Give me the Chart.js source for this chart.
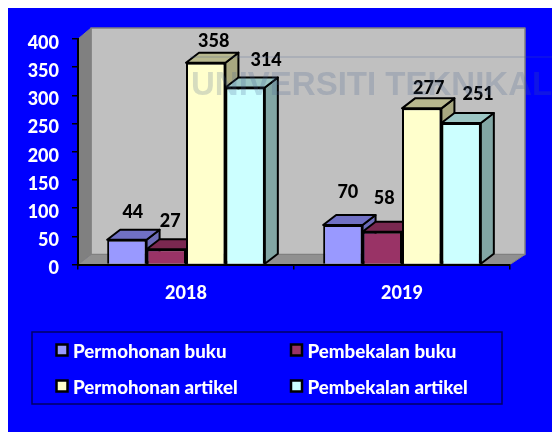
<!DOCTYPE html>
<html>
<head>
<meta charset="utf-8">
<script src="https://cdn.jsdelivr.net/npm/chart.js@4/dist/chart.umd.min.js"></script>
<style>
body { margin: 0; background: #fff; }
canvas { display: block; }
</style>
</head>
<body>
<canvas id="barChart" width="552" height="432"></canvas>
<script>
var categories = ["2018", "2019"];
var seriesNames = ["Permohonan buku", "Pembekalan buku", "Permohonan artikel", "Pembekalan artikel"];
var permohonanBuku = [44, 70];
var pembekalanBuku = [27, 58];
var permohonanArtikel = [358, 277];
var pembekalanArtikel = [314, 251];
var yTicks = [0, 50, 100, 150, 200, 250, 300, 350, 400];

var frontColors = ["#9999ff", "#993366", "#ffffcc", "#ccffff"];
var topColors = ["#7070c4", "#7a2850", "#b8b88e", "#9cc6c4"];
var sideColors = ["#6c6cb8", "#6e2348", "#a8a880", "#82a6a4"];

// hand placed value labels in the original, offset from the bar's front top centre
var labelOffsets = [
	[[6, -28], [5, -33]],
	[[4, -28], [2, -34]],
	[[8, -21], [7, -20]],
	[[21, -27], [17, -29]]
];

var depthX = 13;
var depthY = 10;
var fontName = 'Lato, "Noto Sans", sans-serif';

function poly(ctx, pts, fill, stroke, lw) {
	ctx.beginPath();
	ctx.moveTo(pts[0][0], pts[0][1]);
	for (var i = 1; i < pts.length; i++) ctx.lineTo(pts[i][0], pts[i][1]);
	ctx.closePath();
	ctx.fillStyle = fill;
	ctx.fill();
	if (stroke) {
		ctx.strokeStyle = stroke;
		ctx.lineWidth = lw;
		ctx.lineJoin = "round";
		ctx.stroke();
	}
}

var scene3d = {
	id: "scene3d",
	beforeDraw: function (chart) {
		var ctx = chart.ctx, a = chart.chartArea;
		var backL = a.left + depthX, backR = a.right + 15, backT = a.top - 11, backB = a.bottom - depthY;
		ctx.save();
		ctx.fillStyle = "#ffffff";
		ctx.fillRect(0, 0, 552, 432);
		ctx.fillStyle = "#0000ff";
		ctx.fillRect(8, 8, 544, 424);
		// walls and floor
		poly(ctx, [[backL, backT], [backR, backT], [backR, backB], [backL, backB]], "#c0c0c0", "#808080", 1.5);
		poly(ctx, [[a.left, a.top], [backL, backT], [backL, backB], [a.left, a.bottom]], "#808080", "#808080", 1);
		poly(ctx, [[a.left, a.bottom], [backL, backB], [backR, backB], [a.right, a.bottom]], "#909090", "#808080", 1);
		ctx.restore();
	},
	beforeDatasetsDraw: function (chart) {
		var ctx = chart.ctx;
		ctx.save();
		// left to right so each bar's top covers the side of the one before
		for (var c = 0; c < categories.length; c++) {
			for (var s = 0; s < seriesNames.length; s++) {
				var bar = chart.getDatasetMeta(s).data[c];
				var l = bar.x - bar.width / 2, r = bar.x + bar.width / 2;
				poly(ctx, [[r, bar.y], [r + depthX, bar.y - depthY], [r + depthX, bar.base - depthY], [r, bar.base]], sideColors[s], "#000000", 2);
				poly(ctx, [[l, bar.y], [l + depthX, bar.y - depthY], [r + depthX, bar.y - depthY], [r, bar.y]], topColors[s], "#000000", 2);
			}
		}
		ctx.restore();
	},
	afterDatasetsDraw: function (chart) {
		var ctx = chart.ctx;
		ctx.save();
		ctx.font = "900 18px " + fontName;
		ctx.fillStyle = "#000000";
		ctx.textAlign = "center";
		ctx.textBaseline = "middle";
		for (var s = 0; s < seriesNames.length; s++) {
			chart.getDatasetMeta(s).data.forEach(function (bar, c) {
				var off = labelOffsets[s][c];
				ctx.fillText(chart.data.datasets[s].data[c], bar.x + off[0], bar.y + off[1]);
			});
		}
		ctx.restore();
	},
	afterDraw: function (chart) {
		var ctx = chart.ctx;
		ctx.save();
		// legend box
		ctx.strokeStyle = "#000066";
		ctx.lineWidth = 1.5;
		ctx.strokeRect(32, 332, 470, 72);
		ctx.font = "900 18.7px " + fontName;
		ctx.textBaseline = "middle";
		ctx.textAlign = "left";
		for (var i = 0; i < seriesNames.length; i++) {
			var x = i % 2 ? 291 : 56.5;
			var y = i < 2 ? 350.5 : 386.5;
			ctx.fillStyle = frontColors[i];
			ctx.fillRect(x, y - 6, 11, 11);
			ctx.strokeStyle = "#000000";
			ctx.lineWidth = 2.5;
			ctx.strokeRect(x, y - 6, 11, 11);
			ctx.fillStyle = "#ffffff";
			ctx.fillText(seriesNames[i], x + 16.5, y + 1);
		}
		// scan watermark
		ctx.fillStyle = "rgba(70, 95, 140, 0.22)";
		ctx.font = 'bold 33px "Liberation Sans", sans-serif';
		ctx.fillText("UNIVERSITI TEKNIKAL", 191, 86);
		ctx.strokeStyle = "rgba(70, 95, 140, 0.22)";
		ctx.lineWidth = 1.5;
		ctx.beginPath();
		ctx.moveTo(190, 57);
		ctx.lineTo(552, 57);
		ctx.stroke();
		ctx.restore();
	}
};

var datasets = [permohonanBuku, pembekalanBuku, permohonanArtikel, pembekalanArtikel].map(function (values, i) {
	return {
		label: seriesNames[i],
		data: values,
		backgroundColor: frontColors[i],
		borderColor: "#000000",
		borderWidth: 2,
		categoryPercentage: 0.73,
		barPercentage: 1
	};
});

var ctxB = document.getElementById("barChart").getContext("2d");
var myBarChart = new Chart(ctxB, {
	type: "bar",
	data: { labels: categories, datasets: datasets },
	plugins: [scene3d],
	options: {
		responsive: false,
		animation: false,
		layout: { padding: { left: 18, right: 42, top: 39, bottom: 0 } },
		plugins: { legend: { display: false }, tooltip: { enabled: false } },
		scales: {
			x: {
				afterFit: function (scale) { scale.height = 167.5; },
				grid: { drawOnChartArea: false, color: "#000000", tickLength: 5, lineWidth: 1.5 },
				border: { color: "#000000", width: 2 },
				ticks: { color: "#ffffff", padding: 13, font: { family: fontName, size: 18, weight: "900" } }
			},
			y: {
				min: 0,
				max: 400,
				afterFit: function (scale) { scale.width = 60; },
				afterBuildTicks: function (scale) {
					scale.ticks = yTicks.map(function (v) { return { value: v }; });
				},
				// labels sit a little under their tick marks in the original
				afterUpdate: function (scale) {
					var compute = scale._computeLabelItems;
					scale._computeLabelItems = function (area) {
						var items = compute.call(scale, area);
						items.forEach(function (item) { item.options.translation[1] += 2; });
						return items;
					};
				},
				grid: { drawOnChartArea: false, color: "#000000", tickLength: 6, lineWidth: 1.5 },
				border: { color: "#000000", width: 2 },
				ticks: { color: "#ffffff", padding: 13, font: { family: fontName, size: 18, weight: "900" } }
			}
		}
	}
});
</script>
</body>
</html>
